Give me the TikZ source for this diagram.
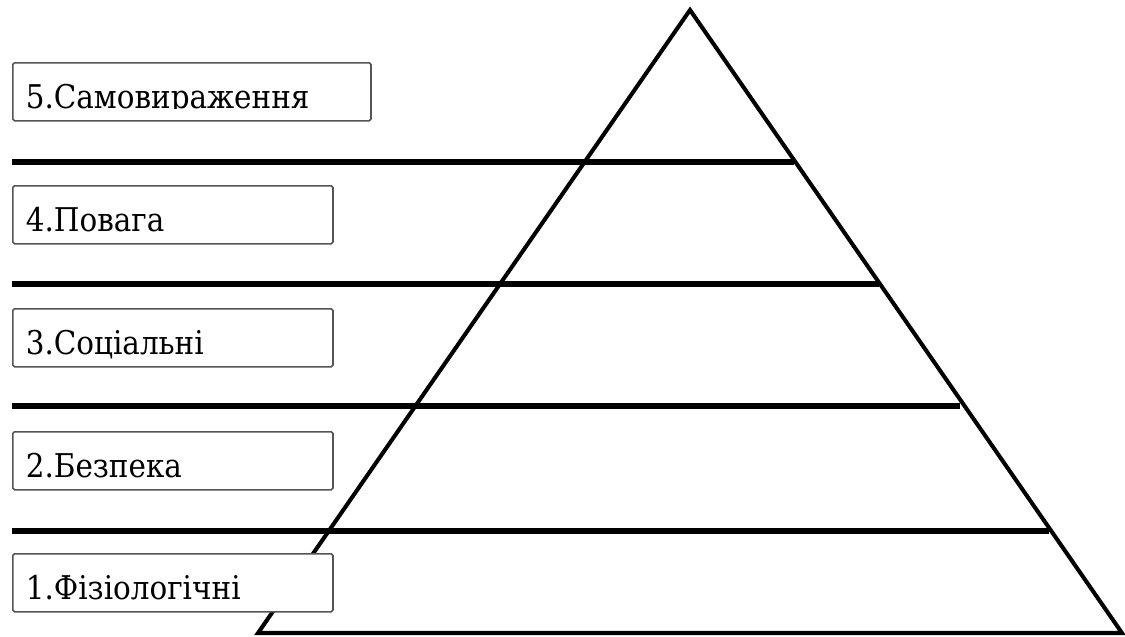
\documentclass[tikz,border=0pt]{standalone}
\usepackage{fontspec}
\setmainfont{DejaVu Serif}
\newfontfamily\levelfont[FakeStretch=0.9]{DejaVu Serif}
\usetikzlibrary{positioning}
\definecolor{ink}{HTML}{000000}
\definecolor{frame}{HTML}{555555}
\tikzset{
  pyramid/.style={
    draw=ink,
    line width=1.15pt,
    line join=miter
  },
  tier/.style={
    draw=ink,
    line width=1.45pt
  },
  level/.style={
    draw=frame,
    fill=white,
    line width=0.45pt,
    rounded corners=0.5pt,
    anchor=north west,
    minimum width=3.2cm,
    text width=2.94cm,
    align=left,
    inner xsep=0.13cm,
    inner ysep=0pt,
    text height=0.46cm,
    text depth=0.12cm,
    font=\levelfont\fontsize{9.3pt}{12pt}\selectfont
  }
}

\begin{document}
\begin{tikzpicture}[x=0.01cm, y=-0.01cm]
  \useasboundingbox (0,0) rectangle (1125,636);
  % Pyramid.
  \coordinate (apex) at (690,10);
  \coordinate (baseleft) at (258,633);
  \coordinate (baseright) at (1122,633);
  \draw[pyramid] (apex) -- (baseright) -- (baseleft) -- cycle;

  % Tier dividers.
  \draw[tier] (12,162) -- (794,162);
  \draw[tier] (12,284) -- (879,284);
  \draw[tier] (12,406) -- (960,406);
  \draw[tier] (12,531) -- (1049,531);

  % Level boxes.
  \node[level, minimum width=3.58cm, text width=3.32cm] (selfexpr) at (12,62) {};
  \begin{scope}
    \clip (selfexpr.north west) rectangle ([yshift=-0.465cm]selfexpr.east |- selfexpr.north);
    \node[level, draw=none, fill=none, minimum width=3.58cm, text width=3.32cm]
      (selfexprtext) at (12,62) {5.Самовираження};
  \end{scope}
  \node[level] (esteem) at (12,185) {4.Повага};
  \node[level] (social) at (12,308) {3.Соціальні};
  \node[level] (safety) at (12,431) {2.Безпека};
  \node[level] (physio) at (12,553) {1.Фізіологічні};
\end{tikzpicture}
\end{document}
